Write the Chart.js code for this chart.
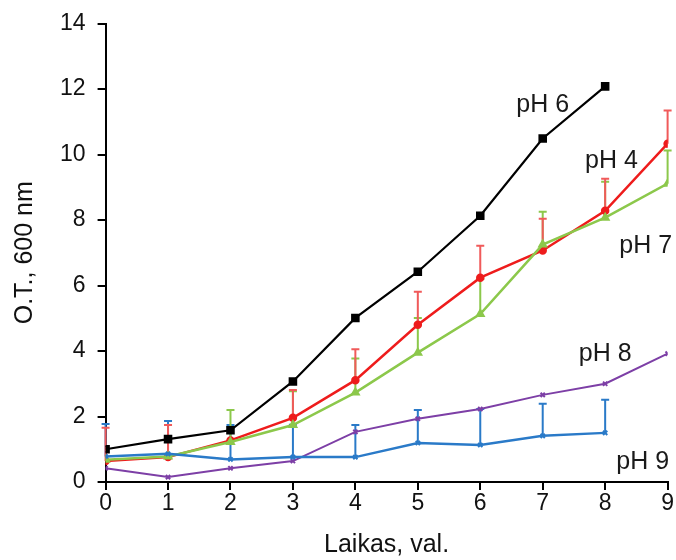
<!DOCTYPE html>
<html>
<head>
<meta charset="utf-8">
<script src="https://cdn.jsdelivr.net/npm/chart.js@4/dist/chart.umd.min.js"></script>
<style>
	body { margin: 0; background: #fff; }
	#wrap { width: 676px; height: 560px; }
</style>
</head>
<body>
<div id="wrap"><canvas id="myChart" width="676" height="560"></canvas></div>
<script>
// laikas (val.)
const hours = [0, 1, 2, 3, 4, 5, 6, 7, 8, 9];

// O.T. vertės
const ph6 = [1.0, 1.31, 1.58, 3.07, 5.01, 6.42, 8.13, 10.49, 12.08];
const ph4 = [0.64, 0.76, 1.27, 1.96, 3.11, 4.8, 6.24, 7.07, 8.28, 10.33];
const ph7 = [0.68, 0.78, 1.22, 1.74, 2.73, 3.95, 5.13, 7.25, 8.07, 9.11];
const ph8 = [0.42, 0.15, 0.42, 0.64, 1.53, 1.93, 2.23, 2.66, 3.0, 3.92];
const ph9 = [0.78, 0.86, 0.69, 0.76, 0.76, 1.19, 1.13, 1.41, 1.5];

// paklaidos (tik į viršų)
const ph4Err = [1.02, 0.98, null, 0.85, 0.94, 1.01, 0.97, 0.97, 0.98, 1.01];
const ph7Err = [null, null, 0.98, 1.03, 1.04, 1.06, 1.07, 1.0, 1.1, 1.01];
const ph9Err = [0.99, 1.0, 1.05, 0.99, 0.98, 1.01, 1.1, 0.98, 1.01];

const yTicks = [0, 2, 4, 6, 8, 10, 12, 14];

function pts(arr) {
	return arr.map((v, i) => ({ x: hours[i], y: v }));
}

// paklaidų stulpeliai
const errorBars = {
	id: 'errorBars',
	beforeDatasetsDraw(chart) {
		const ctx = chart.ctx;
		const xs = chart.scales.x;
		const ys = chart.scales.y;
		chart.data.datasets.forEach(ds => {
			if (!ds.err) return;
			ctx.save();
			ctx.strokeStyle = ds.errColor;
			ctx.lineWidth = 2;
			ds.data.forEach((p, i) => {
				const e = ds.err[i];
				if (e == null) return;
				const px = xs.getPixelForValue(p.x);
				const y0 = ys.getPixelForValue(p.y);
				const y1 = ys.getPixelForValue(p.y + e);
				ctx.beginPath();
				ctx.moveTo(px, y0);
				ctx.lineTo(px, y1);
				ctx.moveTo(px - 4, y1);
				ctx.lineTo(px + 4, y1);
				ctx.stroke();
			});
			ctx.restore();
		});
	}
};

// serijų užrašai
const seriesLabels = {
	id: 'seriesLabels',
	afterDatasetsDraw(chart) {
		const ctx = chart.ctx;
		const xs = chart.scales.x;
		const ys = chart.scales.y;
		const items = [
			['pH 6', 7.0, 11.5],
			['pH 4', 8.1, 9.8],
			['pH 7', 8.65, 7.2],
			['pH 8', 8.0, 3.9],
			['pH 9', 8.6, 0.6]
		];
		ctx.save();
		ctx.fillStyle = '#1a1a1a';
		ctx.font = '25px "Liberation Sans", Arial, sans-serif';
		ctx.textAlign = 'center';
		ctx.textBaseline = 'middle';
		items.forEach(it => {
			ctx.fillText(it[0], xs.getPixelForValue(it[1]), ys.getPixelForValue(it[2]));
		});
		ctx.restore();
	}
};

window.addEventListener("load", function() {
	const tickFont = { family: '"Liberation Sans", Arial, sans-serif', size: 23, lineHeight: 1 };
	const titleFont = { family: '"Liberation Sans", Arial, sans-serif', size: 25 };

	let data = {
		datasets: [
			{
				label: 'pH 9',
				data: pts(ph9),
				err: ph9Err,
				errColor: '#2a7ac8',
				borderColor: '#2a7ac8',
				backgroundColor: '#2a7ac8',
				borderWidth: 2.5,
				pointStyle: 'crossRot',
				pointRadius: 3,
				pointBorderWidth: 2
			},
			{
				label: 'pH 8',
				data: pts(ph8),
				borderColor: '#7d3fa6',
				backgroundColor: '#7d3fa6',
				borderWidth: 2,
				pointStyle: 'crossRot',
				pointRadius: 3,
				pointBorderWidth: 2
			},
			{
				label: 'pH 7',
				data: pts(ph7),
				err: ph7Err,
				errColor: '#8cc84b',
				borderColor: '#8cc84b',
				backgroundColor: '#8cc84b',
				borderWidth: 2.5,
				pointStyle: 'triangle',
				pointRadius: 3.5
			},
			{
				label: 'pH 4',
				data: pts(ph4),
				err: ph4Err,
				errColor: '#f05a5a',
				borderColor: '#ee1c1c',
				backgroundColor: '#ee1c1c',
				borderWidth: 2.5,
				pointStyle: 'circle',
				pointRadius: 3
			},
			{
				label: 'pH 6',
				data: pts(ph6),
				borderColor: '#000',
				backgroundColor: '#000',
				borderWidth: 2.2,
				pointStyle: 'rect',
				pointRadius: 4.5
			}
		]
	};

	let options = {
		responsive: false,
		animation: false,
		layout: { padding: { top: 10, right: 0, left: 10, bottom: 0 } },
		plugins: { legend: { display: false }, tooltip: { enabled: false } },
		scales: {
			x: {
				type: 'linear',
				min: 0,
				max: 9,
				border: { color: '#000', width: 2 },
				grid: { drawOnChartArea: false, color: '#000', lineWidth: 2, tickLength: 8 },
				ticks: { stepSize: 1, color: '#111', font: tickFont, padding: 2 },
				title: { display: true, text: 'Laikas, val.', color: '#111', font: titleFont, padding: { top: 13, bottom: 0 } }
			},
			y: {
				min: 0,
				max: 14,
				border: { color: '#000', width: 2 },
				grid: { drawOnChartArea: false, color: '#000', lineWidth: 2, tickLength: 8 },
				afterBuildTicks: axis => { axis.ticks = yTicks.map(v => ({ value: v })); },
				ticks: { color: '#111', font: tickFont, padding: 12 },
				title: { display: true, text: 'O.T., 600 nm', color: '#111', font: titleFont, padding: { top: 0, bottom: 8 } }
			}
		}
	};

	const ctx = document.getElementById('myChart').getContext('2d');

	let myChart = new Chart(ctx, {
		type: 'line',
		data: data,
		options: options,
		plugins: [errorBars, seriesLabels]
	});
})
</script>
</body>
</html>
